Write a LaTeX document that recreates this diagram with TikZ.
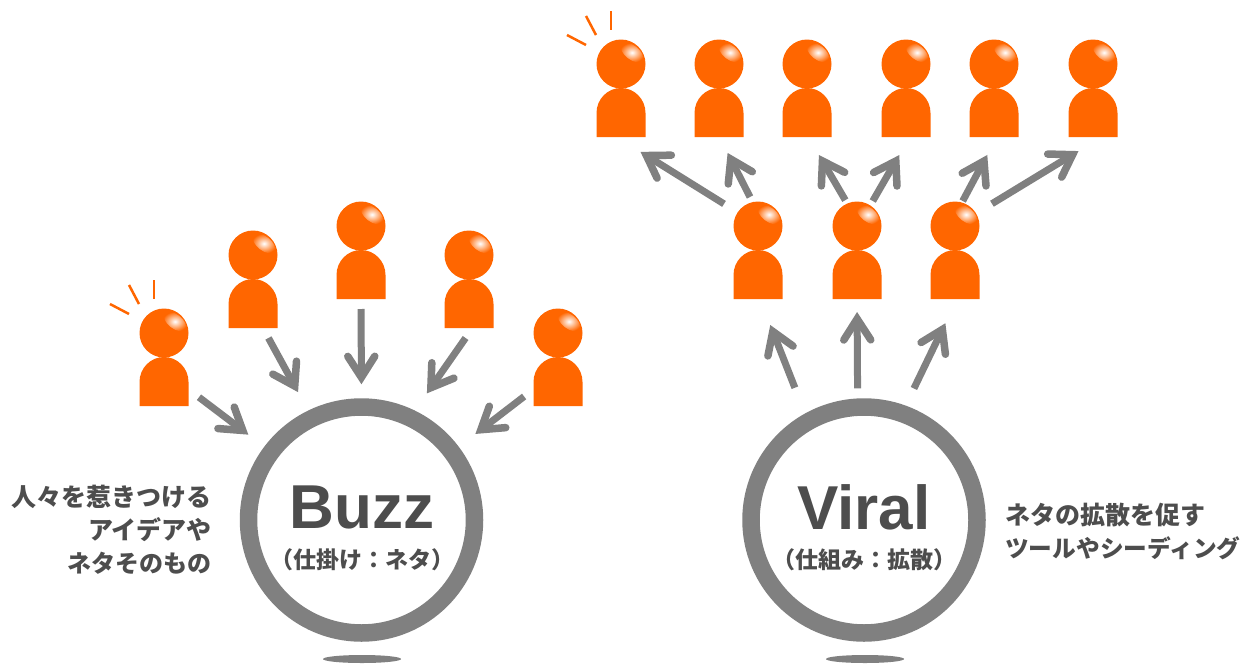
\documentclass[tikz,border=0pt]{standalone}
\usepackage{fontspec}
\setmainfont{Liberation Sans}
\newfontfamily\jpfont{Noto Sans CJK JP}
\usetikzlibrary{arrows.meta}
\definecolor{personorange}{HTML}{FF6600}
\definecolor{flowgray}{HTML}{808080}
\definecolor{textgray}{HTML}{4D4D4D}
\tikzset{
    person/.style={rectangle, minimum width=50pt, minimum height=97pt, inner sep=0pt, outer sep=0pt}, % one figure, head and body
    flow/.style={draw=flowgray, line width=7pt, -{Straight Barb[length=21pt, width=27pt, line width=7.5pt, line cap=round, line join=miter]}}, % grey arrow
    ring/.style={circle, draw=flowgray, line width=17.5pt, minimum size=226pt, inner sep=0pt}, % big circle
    spark/.style={draw=personorange, line width=2.5pt}, % little attention strokes
    title/.style={font=\bfseries\fontsize{62}{62}\selectfont, text=textgray, inner sep=0pt},
    subtitle/.style={font=\jpfont\bfseries\fontsize{23}{23}\selectfont, text=textgray, inner sep=0pt},
    note/.style={font=\jpfont\bfseries\fontsize{25}{33}\selectfont, text=textgray, inner sep=0pt}
}

\begin{document}
\begin{tikzpicture}[x=1pt, y=-1pt]
    \useasboundingbox (0,0) rectangle (1241,664);
    \fill[white] (0,0) rectangle (1241,664);

    % figures: name / head centre
    \foreach \n/\x/\y in {b1/164/333, b2/253/255, b3/361/226, b4/469/255, b5/558/333,
                          m1/758/226, m2/857/226, m3/955/226,
                          t1/621/64, t2/719/64, t3/807/64, t4/906/64, t5/994/64, t6/1093/64} {
        \node[person] (\n) at (\x,\y+23.5) {};
        \fill[personorange] (\x-24.5,\y+73) -- (\x-24.5,\y+49) arc (180:360:24.5 and 25) -- (\x+24.5,\y+73) -- cycle;
        \fill[personorange] (\x,\y) circle (24.5);
        \shade[inner color=white, outer color=personorange, rotate around={-38:(\x+11,\y-11.5)}] (\x+11,\y-11.5) ellipse (13 and 7);
    }

    % attention strokes
    \foreach \x/\y in {164/333, 621/64} {
        \draw[spark] (\x-54,\y-29) -- (\x-35,\y-19);
        \draw[spark] (\x-35,\y-48) -- (\x-25,\y-29);
        \draw[spark] (\x-10,\y-53) -- (\x-10,\y-34);
    }

    \node[ring] (buzz) at (361.5,520) {};
    \node[ring] (viral) at (864,520) {};
    \fill[flowgray] (362,659) ellipse (39 and 4);
    \fill[flowgray] (865,659) ellipse (39 and 4);

    % arrows: from / to / shorten start / shorten end
    \foreach \a/\b/\s/\e in {b1.-53.6/buzz.143/12.5/20, b2.-79.4/buzz.116.5/12.5/21, b3.south/buzz.north/11/14,
                             b4.-85.8/buzz.64/13.4/21, b5.233.6/buzz.37.7/11.2/21,
                             viral.119.5/m1.-88/27.7/29, viral.93.3/m2.south/10/14, viral.70.6/m3.-87.3/19/28,
                             m1.122.8/t1.-97.5/10.6/30, m1.97/t2.south/4.5/19, m2.103.2/t3.-89/1/22,
                             m2.72.2/t4.-85.4/0/22, m3.81.2/t5.-86.3/0/21.5, m3.57.5/t6.-78.6/14/29} {
        \draw[flow, shorten <=\s pt, shorten >=\e pt] (\a) -- (\b);
    }

    \node[title] (buzzname) at (362,507) {Buzz};
    \node[subtitle] (buzzsub) at (362,560) {（仕掛け：ネタ）};
    \node[title] (viralname) at (864,507) {Viral};
    \node[subtitle] (viralsub) at (864,560) {（仕組み：拡散）};
    \node[note, align=right, anchor=east] (buzznote) at (212,530) {人々を惹きつける\\アイデアや\\\fontsize{24}{33}\selectfont ネタそのもの};
    \node[note, align=left, anchor=west] (viralnote) at (1005,531) {ネタの拡散を促す\\\fontsize{23.7}{33}\selectfont ツールやシーディング};
\end{tikzpicture}
\end{document}
